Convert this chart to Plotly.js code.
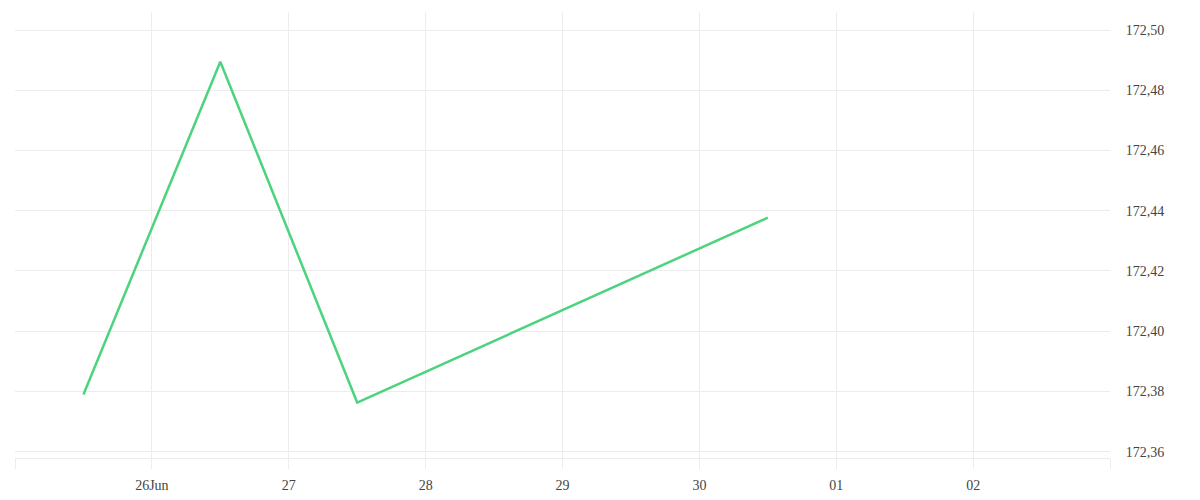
<!DOCTYPE html>
<html>
<head>
<meta charset="utf-8">
<script src="https://cdn.plot.ly/plotly-3.0.1.min.js"></script>
<style>html,body{margin:0;padding:0;background:#fff;}#chart{width:1200px;height:500px;}</style>
</head>
<body>
<div id="chart"></div>
<script>
const dates = ["2025-06-25 12:00", "2025-06-26 12:00", "2025-06-27 12:00", "2025-06-30 12:00"];
const values = [172.3790, 172.4895, 172.3763, 172.4377];
const xTickVals = ["2025-06-25", "2025-06-26", "2025-06-27", "2025-06-28", "2025-06-29", "2025-06-30", "2025-07-01", "2025-07-02", "2025-07-03"];
const xTickText = ["", "26Jun", "27", "28", "29", "30", "01", "02", ""];
const yTickVals = [172.36, 172.38, 172.40, 172.42, 172.44, 172.46, 172.48, 172.50];

const grid = "#ececec";
Plotly.newPlot("chart", [{
  x: dates, y: values, type: "scatter", mode: "lines",
  line: {color: "#4cd37e", width: 2.5},
  hoverinfo: "skip"
}], {
  width: 1200, height: 500,
  margin: {l: 15, r: 90, t: 12, b: 42},
  paper_bgcolor: "#fff", plot_bgcolor: "#fff",
  separators: ",.",
  showlegend: false,
  font: {family: "Liberation Serif, serif", size: 14, color: "#444"},
  xaxis: {
    type: "date", range: ["2025-06-25", "2025-07-03"],
    tickmode: "array", tickvals: xTickVals, ticktext: xTickText,
    showgrid: true, gridcolor: grid, gridwidth: 1,
    ticks: "outside", ticklen: 10, tickcolor: grid, tickwidth: 1,
    ticklabelstandoff: 4,
    showline: true, linecolor: grid, linewidth: 1,
    zeroline: false, fixedrange: true
  },
  yaxis: {
    side: "right", range: [172.3579, 172.506],
    tickmode: "array", tickvals: yTickVals, tickformat: ".2f",
    showgrid: true, gridcolor: grid, gridwidth: 1,
    ticks: "outside", ticklen: 12, tickcolor: "rgba(0,0,0,0)",
    showline: false, zeroline: false, fixedrange: true
  }
}, {displayModeBar: false, staticPlot: true});
</script>
</body>
</html>
